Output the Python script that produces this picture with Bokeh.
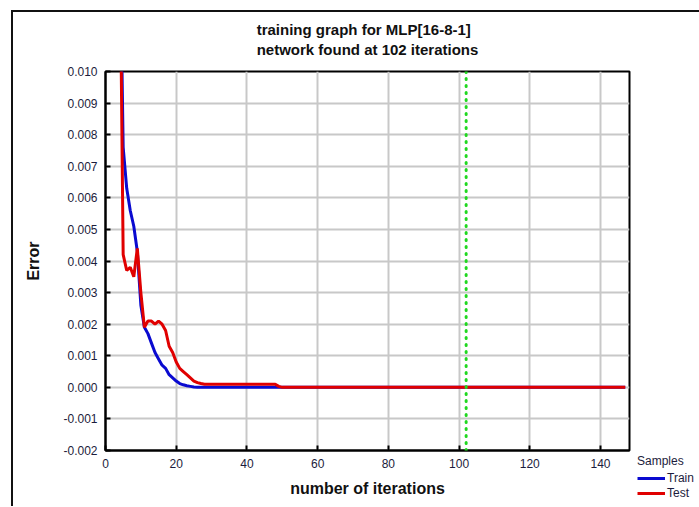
from bokeh.plotting import figure
from bokeh.models import (FixedTicker, PrintfTickFormatter, Span, Legend, LegendItem,
                          Range1d)
from bokeh.embed import file_html
from bokeh.resources import INLINE

# ---- data ----
iterations = [4, 5, 6, 7, 8, 9, 10, 11, 12, 13, 14, 15, 16, 17, 18, 19, 20, 21, 22, 23,
              24, 25, 26, 27, 28, 29, 30, 35, 40, 45, 48, 49, 50, 60, 70, 80, 90, 100,
              110, 120, 130, 140, 147]
train_error = [0.0150, 0.0076, 0.0063, 0.0056, 0.0051, 0.0043, 0.0026, 0.0019, 0.0017,
               0.0014, 0.0011, 0.0009, 0.0007, 0.0006, 0.0004, 0.0003, 0.0002, 0.00012,
               0.00008, 0.00005, 0.00003, 0.00001, 0.0, 0.0, 0.0, 0.0, 0.0, 0.0, 0.0, 0.0,
               0.0, 0.0, 0.0, 0.0, 0.0, 0.0, 0.0, 0.0, 0.0, 0.0, 0.0, 0.0, 0.0]
test_error = [0.0150, 0.0042, 0.0037, 0.0038, 0.0035, 0.0044, 0.0030, 0.0019, 0.0021,
              0.0021, 0.0020, 0.0021, 0.0020, 0.0018, 0.0013, 0.0011, 0.0008, 0.0006,
              0.0005, 0.0004, 0.0003, 0.0002, 0.00015, 0.00012, 0.0001, 0.0001, 0.0001,
              0.0001, 0.0001, 0.0001, 0.0001, 0.00003, 0.0, 0.0, 0.0, 0.0, 0.0, 0.0, 0.0,
              0.0, 0.0, 0.0, 0.0]
best_iteration = 102
x_ticks = [0, 20, 40, 60, 80, 100, 120, 140]
y_ticks = [-0.002, -0.001, 0.0, 0.001, 0.002, 0.003, 0.004, 0.005, 0.006, 0.007,
           0.008, 0.009, 0.010]
title_text = "training graph for MLP[16-8-1]\nnetwork found at %d iterations" % best_iteration

FONT = "Liberation Sans"
TICK_COLOR = "#1c1c3c"

p = figure(frame_width=524, frame_height=379, output_backend="svg",
           toolbar_location=None,
           x_range=Range1d(0, 148.2), y_range=Range1d(-0.002, 0.010),
           min_border_left=105, min_border_right=70, min_border_top=71,
           min_border_bottom=56, background_fill_color="white",
           border_fill_color=None)
p.styles = {"background-color": "white",
            "box-shadow": "inset 11px 10px 0 0 #ffffff, inset 13px 12px 0 0 #111111"}

p.title.text = title_text
p.title.align = "center"
p.title.text_font = FONT
p.title.text_font_size = "15px"
p.title.text_font_style = "bold"
p.title.text_color = "#111111"
p.title.text_line_height = 1.2
p.title.standoff = 26

p.outline_line_color = "black"
p.outline_line_width = 2
p.outline_line_alpha = 1.0

for ax in (p.xaxis[0], p.yaxis[0]):
    ax.axis_line_color = "black"
    ax.axis_line_width = 2
    ax.major_tick_in = 5
    ax.major_tick_out = 0
    ax.major_tick_line_color = "black"
    ax.major_tick_line_width = 2
    ax.minor_tick_line_color = None
    ax.major_label_text_font = FONT
    ax.major_label_text_font_size = "12px"
    ax.major_label_text_color = TICK_COLOR
    ax.axis_label_text_font = FONT
    ax.axis_label_text_font_size = "16px"
    ax.axis_label_text_font_style = "bold"
    ax.axis_label_text_color = "#111111"

p.xaxis.ticker = FixedTicker(ticks=x_ticks)
p.yaxis.ticker = FixedTicker(ticks=y_ticks)
p.yaxis.formatter = PrintfTickFormatter(format="%.3f")
p.xaxis.axis_label = "number of iterations"
p.yaxis.axis_label = "Error"
p.xaxis.major_label_standoff = 8
p.yaxis.major_label_standoff = 8
p.xaxis.axis_label_standoff = 9
p.yaxis.axis_label_standoff = 18

p.xgrid.ticker = FixedTicker(ticks=x_ticks)
p.ygrid.ticker = FixedTicker(ticks=y_ticks)
for g in (p.xgrid[0], p.ygrid[0]):
    g.grid_line_color = "#c8c8c8"
    g.grid_line_width = 2

best = Span(location=best_iteration, dimension="height", line_color="#1fd81f",
            line_width=3, line_dash="1 6", line_cap="round")
p.add_layout(best)

r_train = p.line(iterations, train_error, line_color="#0a0ad0", line_width=3)
r_test = p.line(iterations, test_error, line_color="#e00000", line_width=3)

legend = Legend(items=[LegendItem(label="Train", renderers=[r_train]),
                       LegendItem(label="Test", renderers=[r_test])],
                location=(8, -50), title="Samples",
                title_text_font=FONT, title_text_font_size="12px",
                title_text_font_style="normal",
                title_text_color=TICK_COLOR, title_standoff=3,
                label_text_font=FONT, label_text_font_size="12px",
                label_text_color=TICK_COLOR, label_standoff=2,
                glyph_width=28, glyph_height=12, label_height=12,
                spacing=1, padding=0, margin=0,
                border_line_color=None, background_fill_alpha=0)
p.add_layout(legend, "right")

open("out.html", "w").write(file_html(p, INLINE))
